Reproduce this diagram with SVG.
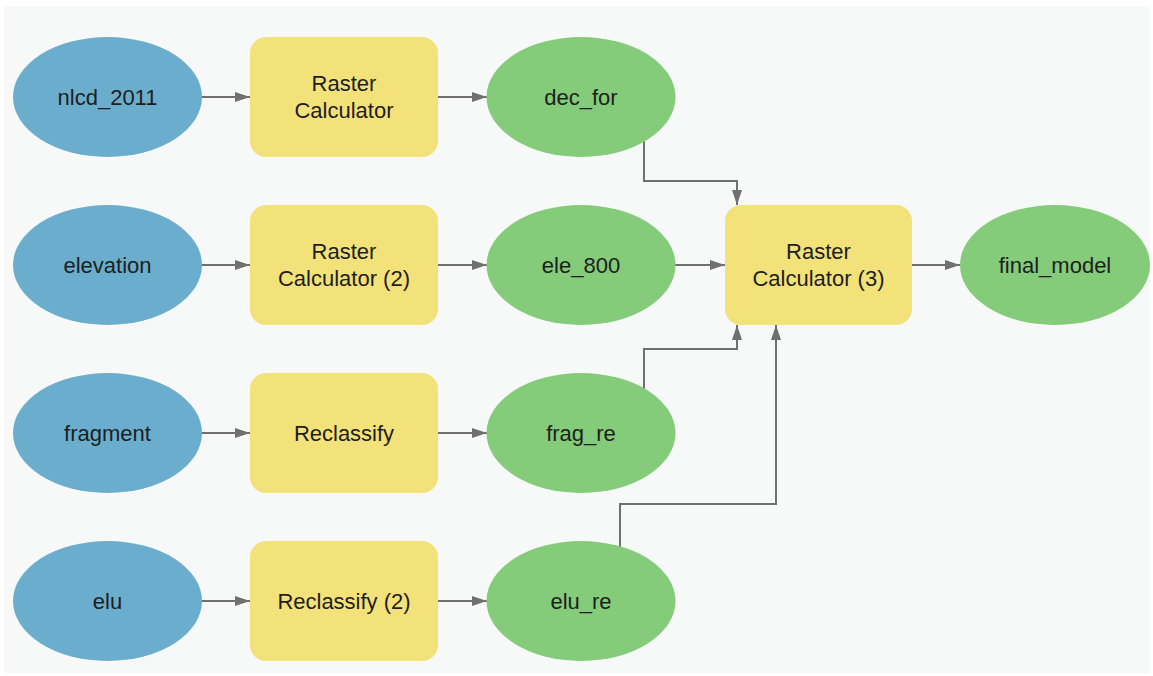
<svg xmlns="http://www.w3.org/2000/svg" width="1153" height="676" viewBox="0 0 1153 676">
<defs>
<style>
.in{fill:#6badcc}
.tool{fill:#f3e17a}
.out{fill:#84cb7a}
text{font-family:"Liberation Sans",Arial,sans-serif;font-size:22px;fill:#1e1e1e;text-anchor:middle}
.c{fill:none;stroke:#707070;stroke-width:2}
</style>
<marker id="ah" markerWidth="15" markerHeight="12" refX="15" refY="6" orient="auto" markerUnits="userSpaceOnUse">
<path d="M0,1 L15,6 L0,11 Z" fill="#707070"/>
</marker>
</defs>
<rect x="0" y="0" width="1153" height="676" fill="#ffffff"/>
<rect x="4" y="6" width="1146" height="667" fill="#f7f8f8"/>
<g id="connectors">
<path class="c" d="M202,97 L250,97" marker-end="url(#ah)"/>
<path class="c" d="M438,97 L487,97" marker-end="url(#ah)"/>
<path class="c" d="M202,265 L250,265" marker-end="url(#ah)"/>
<path class="c" d="M438,265 L487,265" marker-end="url(#ah)"/>
<path class="c" d="M202,433 L250,433" marker-end="url(#ah)"/>
<path class="c" d="M438,433 L487,433" marker-end="url(#ah)"/>
<path class="c" d="M202,601 L250,601" marker-end="url(#ah)"/>
<path class="c" d="M438,601 L487,601" marker-end="url(#ah)"/>
<path class="c" d="M644,140 L644,181 L737,181 L737,205" marker-end="url(#ah)"/>
<path class="c" d="M675,265 L725,265" marker-end="url(#ah)"/>
<path class="c" d="M644,390 L644,349 L737,349 L737,325" marker-end="url(#ah)"/>
<path class="c" d="M620,547 L620,504 L776,504 L776,325" marker-end="url(#ah)"/>
<path class="c" d="M912,265 L960,265" marker-end="url(#ah)"/>
</g>
<g id="nlcd_2011"><ellipse class="in" cx="107.5" cy="97" rx="94.5" ry="60"/><text x="107.5" y="105">nlcd_2011</text></g>
<g id="raster_calculator"><rect class="tool" x="250" y="37" width="188" height="120" rx="16"/><text x="344" y="91">Raster</text><text x="344" y="118">Calculator</text></g>
<g id="dec_for"><ellipse class="out" cx="581" cy="97" rx="94.5" ry="60"/><text x="581" y="105">dec_for</text></g>
<g id="elevation"><ellipse class="in" cx="107.5" cy="265" rx="94.5" ry="60"/><text x="107.5" y="273">elevation</text></g>
<g id="raster_calculator_2"><rect class="tool" x="250" y="205" width="188" height="120" rx="16"/><text x="344" y="259">Raster</text><text x="344" y="286">Calculator (2)</text></g>
<g id="ele_800"><ellipse class="out" cx="581" cy="265" rx="94.5" ry="60"/><text x="581" y="273">ele_800</text></g>
<g id="fragment"><ellipse class="in" cx="107.5" cy="433" rx="94.5" ry="60"/><text x="107.5" y="441">fragment</text></g>
<g id="reclassify"><rect class="tool" x="250" y="373" width="188" height="120" rx="16"/><text x="344" y="441">Reclassify</text></g>
<g id="frag_re"><ellipse class="out" cx="581" cy="433" rx="94.5" ry="60"/><text x="581" y="441">frag_re</text></g>
<g id="elu"><ellipse class="in" cx="107.5" cy="601" rx="94.5" ry="60"/><text x="107.5" y="609">elu</text></g>
<g id="reclassify_2"><rect class="tool" x="250" y="541" width="188" height="120" rx="16"/><text x="344" y="609">Reclassify (2)</text></g>
<g id="elu_re"><ellipse class="out" cx="581" cy="601" rx="94.5" ry="60"/><text x="581" y="609">elu_re</text></g>
<g id="raster_calculator_3"><rect class="tool" x="725" y="205" width="187" height="120" rx="16"/><text x="818.5" y="259">Raster</text><text x="818.5" y="286">Calculator (3)</text></g>
<g id="final_model"><ellipse class="out" cx="1055" cy="265" rx="95" ry="60"/><text x="1055" y="273">final_model</text></g>
</svg>
